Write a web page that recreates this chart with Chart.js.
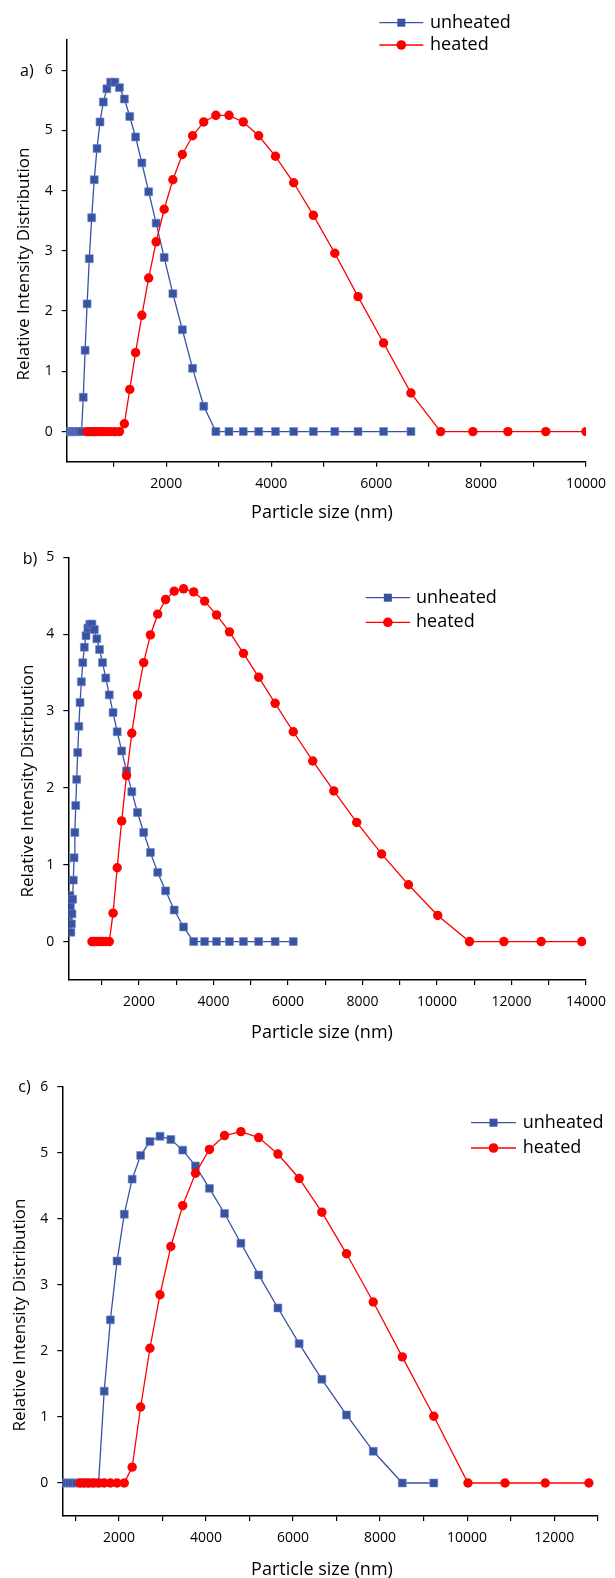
<!DOCTYPE html>
<html>
<head>
<meta charset="utf-8">
<script src="https://cdn.jsdelivr.net/npm/chart.js@4.4.1/dist/chart.umd.min.js"></script>
<style>
  html, body { margin: 0; padding: 0; background: #fff; }
  #wrap { position: relative; width: 615px; height: 1578px; }
  canvas { position: absolute; left: 0; }
</style>
</head>
<body>
<div id="wrap">
  <canvas id="chartA" width="615" height="530" style="top:0px"></canvas>
  <canvas id="chartB" width="615" height="520" style="top:530px"></canvas>
  <canvas id="chartC" width="615" height="528" style="top:1050px"></canvas>
</div>
<script>
// ---- panel a ----
const aUnheatedSize = [113, 122, 133, 144, 156, 169, 184, 199, 216, 235, 255, 276, 300, 325, 353, 383,
  416, 451, 489, 531, 576, 625, 678, 735, 798, 866, 939, 1019, 1106, 1200, 1302, 1413, 1533, 1663,
  1805, 1958, 2124, 2305, 2500, 2713, 2944, 3194, 3466, 3760, 4080, 4427, 4803, 5211, 5654, 6141, 6663];
const aUnheatedValue = [0, 0, 0, 0, 0, 0, 0, 0, 0, 0, 0, 0, 0, 0, 0, 0,
  0.57, 1.35, 2.12, 2.87, 3.55, 4.18, 4.70, 5.14, 5.47, 5.69, 5.80, 5.80, 5.71, 5.52, 5.23, 4.89, 4.46, 3.98,
  3.46, 2.89, 2.29, 1.69, 1.05, 0.42, 0, 0, 0, 0, 0, 0, 0, 0, 0, 0, 0];
const aHeatedSize = [489, 531, 576, 625, 678, 735, 798, 866, 939, 1019, 1106, 1200, 1302, 1413, 1533,
  1663, 1805, 1958, 2124, 2305, 2500, 2713, 2944, 3194, 3466, 3760, 4080, 4427, 4803, 5211, 5654,
  6141, 6663, 7229, 7844, 8511, 9234, 10000];
const aHeatedValue = [0, 0, 0, 0, 0, 0, 0, 0, 0, 0, 0, 0.13, 0.70, 1.31, 1.93,
  2.55, 3.15, 3.69, 4.18, 4.60, 4.91, 5.14, 5.25, 5.25, 5.14, 4.91, 4.57, 4.13, 3.59, 2.96, 2.24,
  1.47, 0.64, 0, 0, 0, 0, 0];
const aXTicks = [1000, 2000, 3000, 4000, 5000, 6000, 7000, 8000, 9000, 10000];
const aYTicks = [0, 1, 2, 3, 4, 5, 6];

// ---- panel b ----
const bUnheatedSize = [144, 156, 169, 184, 199, 216, 235, 255, 276, 300, 325, 353, 383, 416, 451, 489,
  531, 576, 625, 678, 735, 798, 866, 939, 1019, 1106, 1200, 1302, 1413, 1533, 1663, 1805, 1958, 2124,
  2305, 2500, 2713, 2944, 3194, 3466, 3760, 4080, 4427, 4803, 5211, 5654, 6141];
const bUnheatedValue = [0.60, 0.45, 0.12, 0.23, 0.36, 0.55, 0.80, 1.09, 1.42, 1.77, 2.11, 2.46, 2.80, 3.11, 3.38, 3.63,
  3.83, 3.98, 4.08, 4.13, 4.13, 4.06, 3.94, 3.80, 3.63, 3.43, 3.21, 2.98, 2.73, 2.48, 2.22, 1.95, 1.68, 1.42,
  1.16, 0.90, 0.66, 0.41, 0.19, 0, 0, 0, 0, 0, 0, 0, 0];
const bHeatedSize = [735, 798, 866, 939, 1019, 1106, 1200, 1302, 1413, 1533, 1663, 1805, 1958, 2124,
  2305, 2500, 2713, 2944, 3194, 3466, 3760, 4080, 4427, 4803, 5211, 5654, 6141, 6663, 7229, 7844,
  8511, 9234, 10019, 10871, 11795, 12797, 13885];
const bHeatedValue = [0, 0, 0, 0, 0, 0, 0, 0.37, 0.96, 1.57, 2.16, 2.71, 3.21, 3.63,
  3.99, 4.26, 4.45, 4.56, 4.59, 4.55, 4.43, 4.25, 4.03, 3.75, 3.44, 3.10, 2.73, 2.35, 1.96, 1.55,
  1.14, 0.74, 0.34, 0, 0, 0, 0];
const bXTicks = [1000, 2000, 3000, 4000, 5000, 6000, 7000, 8000, 9000, 10000, 11000, 12000, 13000, 14000];
const bYTicks = [0, 1, 2, 3, 4, 5];

// ---- panel c ----
const cUnheatedSize = [735, 798, 866, 939, 1019, 1106, 1200, 1302, 1413, 1533, 1663, 1805, 1958, 2124,
  2305, 2500, 2713, 2944, 3194, 3466, 3760, 4080, 4427, 4803, 5211, 5654, 6141, 6663, 7229, 7844, 8511, 9234];
const cUnheatedValue = [0, 0, 0, 0, 0, 0, 0, 0, 0, 0, 1.39, 2.47, 3.36, 4.07,
  4.60, 4.96, 5.17, 5.25, 5.20, 5.04, 4.80, 4.46, 4.08, 3.63, 3.15, 2.65, 2.11, 1.57, 1.03, 0.48, 0, 0];
const cHeatedSize = [1106, 1200, 1302, 1413, 1533, 1663, 1805, 1958, 2124, 2305, 2500, 2713, 2944,
  3194, 3466, 3760, 4080, 4427, 4803, 5211, 5654, 6141, 6663, 7229, 7844, 8511, 9234, 10019, 10871, 11795, 12797];
const cHeatedValue = [0, 0, 0, 0, 0, 0, 0, 0, 0, 0.24, 1.15, 2.04, 2.85,
  3.58, 4.20, 4.69, 5.05, 5.26, 5.32, 5.23, 4.98, 4.61, 4.10, 3.47, 2.74, 1.91, 1.01, 0, 0, 0, 0];
const cXTicks = [1000, 2000, 3000, 4000, 5000, 6000, 7000, 8000, 9000, 10000, 11000, 12000, 13000];
const cYTicks = [0, 1, 2, 3, 4, 5, 6];

const seriesNames = ["unheated", "heated"];

const BLUE = "#3953a4";
const RED = "#ff0000";
const FONT = "'Open Sans', 'Noto Sans', sans-serif";
const INK = "#000";

function toPoints(xs, ys) {
  return xs.map((x, i) => ({ x: x, y: ys[i] }));
}

// text, legend and panel letter, drawn after the chart
function panelText(cfg) {
  return {
    id: "panelText",
    afterDraw(chart) {
      const ctx = chart.ctx;
      ctx.save();
      ctx.fillStyle = INK;

      // y axis title
      ctx.save();
      ctx.translate(cfg.yTitleX, cfg.yTitleY);
      ctx.rotate(-Math.PI / 2);
      ctx.font = "17px " + FONT;
      ctx.textAlign = "center";
      ctx.textBaseline = "middle";
      ctx.fillText("Relative Intensity Distribution", 0, 0);
      ctx.restore();

      // x axis title
      ctx.font = "18px " + FONT;
      ctx.textAlign = "center";
      ctx.textBaseline = "alphabetic";
      ctx.fillText("Particle size (nm)", cfg.xTitleX, cfg.xTitleY);

      // panel letter
      ctx.font = "16px " + FONT;
      ctx.textAlign = "left";
      ctx.textBaseline = "middle";
      ctx.fillText(cfg.letter, cfg.letterX, cfg.letterY);

      // legend
      const lg = cfg.legend;
      [BLUE, RED].forEach((color, i) => {
        const y = lg.rows[i];
        ctx.strokeStyle = color;
        ctx.lineWidth = 1.3;
        ctx.beginPath();
        ctx.moveTo(lg.x0, y);
        ctx.lineTo(lg.x1, y);
        ctx.stroke();
        ctx.fillStyle = color;
        const mx = (lg.x0 + lg.x1) / 2;
        if (i === 0) {
          ctx.fillRect(mx - 4, y - 4, 8, 8);
        } else {
          ctx.beginPath();
          ctx.arc(mx, y, 4.8, 0, Math.PI * 2);
          ctx.fill();
        }
        ctx.fillStyle = INK;
        ctx.font = "18px " + FONT;
        ctx.textAlign = "left";
        ctx.textBaseline = "middle";
        ctx.fillText(seriesNames[i], lg.textX, y);
      });
      ctx.restore();
    },
  };
}

function makePanel(id, p) {
  const canvas = document.getElementById(id);
  const W = canvas.width;
  const H = canvas.height;
  return new Chart(canvas, {
    type: "line",
    data: {
      datasets: [
        {
          label: seriesNames[0],
          data: toPoints(p.uSize, p.uValue),
          borderColor: BLUE,
          backgroundColor: BLUE,
          borderWidth: 1.3,
          pointStyle: "rect",
          pointRadius: 5.6,
          pointBorderWidth: 0.6,
          pointBorderColor: "#6f84c4",
          pointBackgroundColor: BLUE,
          tension: 0,
          order: 1,
        },
        {
          label: seriesNames[1],
          data: toPoints(p.hSize, p.hValue),
          borderColor: RED,
          backgroundColor: RED,
          borderWidth: 1.3,
          pointStyle: "circle",
          pointRadius: 4.7,
          pointBorderWidth: 0,
          pointBackgroundColor: RED,
          tension: 0,
          order: 0,
        },
      ],
    },
    options: {
      responsive: false,
      animation: false,
      devicePixelRatio: 1,
      layout: {
        padding: { left: 0, top: p.area.top, right: W - p.area.right, bottom: 0 },
      },
      plugins: {
        legend: { display: false },
        tooltip: { enabled: false },
      },
      scales: {
        x: {
          type: "linear",
          min: p.xMin,
          max: p.xMax,
          afterFit: (s) => { s.height = H - p.area.bottom; },
          afterBuildTicks: (s) => { s.ticks = p.xTicks.map((v) => ({ value: v })); },
          ticks: {
            autoSkip: false,
            maxRotation: 0,
            padding: 9,
            color: INK,
            font: { family: FONT, size: 14 },
            callback: (v) => (v % 2000 === 0 ? String(v) : ""),
          },
          grid: { drawOnChartArea: false, drawTicks: true, tickLength: 5, color: "#000", lineWidth: 1.2 },
          border: { display: true, color: "#000", width: 1.5 },
        },
        y: {
          type: "linear",
          min: -0.5,
          max: p.yMax,
          afterFit: (s) => { s.width = p.area.left; },
          afterBuildTicks: (s) => { s.ticks = p.yTicks.map((v) => ({ value: v })); },
          ticks: {
            autoSkip: false,
            padding: 9,
            color: INK,
            font: { family: FONT, size: 14 },
            callback: (v) => String(v),
          },
          grid: { drawOnChartArea: false, drawTicks: true, tickLength: 5, color: "#000", lineWidth: 1.2 },
          border: { display: true, color: "#000", width: 1.5 },
        },
      },
    },
    plugins: [panelText(p.text)],
  });
}

makePanel("chartA", {
  uSize: aUnheatedSize, uValue: aUnheatedValue, hSize: aHeatedSize, hValue: aHeatedValue,
  xMin: 100, xMax: 10000, xTicks: aXTicks, yMax: 6.5, yTicks: aYTicks,
  area: { left: 66.7, right: 592.7, top: 40, bottom: 461.7 },
  text: {
    yTitleX: 24, yTitleY: 264, xTitleX: 322, xTitleY: 518,
    letter: "a)", letterX: 20, letterY: 71,
    legend: { x0: 379.3, x1: 423.3, textX: 430, rows: [22.7, 45] },
  },
});

makePanel("chartB", {
  uSize: bUnheatedSize, uValue: bUnheatedValue, hSize: bHeatedSize, hValue: bHeatedValue,
  xMin: 100, xMax: 14000, xTicks: bXTicks, yMax: 5, yTicks: bYTicks,
  area: { left: 68.3, right: 591.7, top: 27.3, bottom: 450 },
  text: {
    yTitleX: 28, yTitleY: 251, xTitleX: 322, xTitleY: 508,
    letter: "b)", letterX: 22.7, letterY: 29,
    legend: { x0: 365.7, x1: 410, textX: 416, rows: [67.7, 92.3] },
  },
});

makePanel("chartC", {
  uSize: cUnheatedSize, uValue: cUnheatedValue, hSize: cHeatedSize, hValue: cHeatedValue,
  xMin: 700, xMax: 13000, xTicks: cXTicks, yMax: 6, yTicks: cYTicks,
  area: { left: 62.3, right: 597.7, top: 36.7, bottom: 466 },
  text: {
    yTitleX: 20.5, yTitleY: 265, xTitleX: 322, xTitleY: 525,
    letter: "c)", letterX: 18.3, letterY: 37,
    legend: { x0: 471, x1: 516, textX: 522.7, rows: [72.7, 98] },
  },
});
</script>
</body>
</html>
